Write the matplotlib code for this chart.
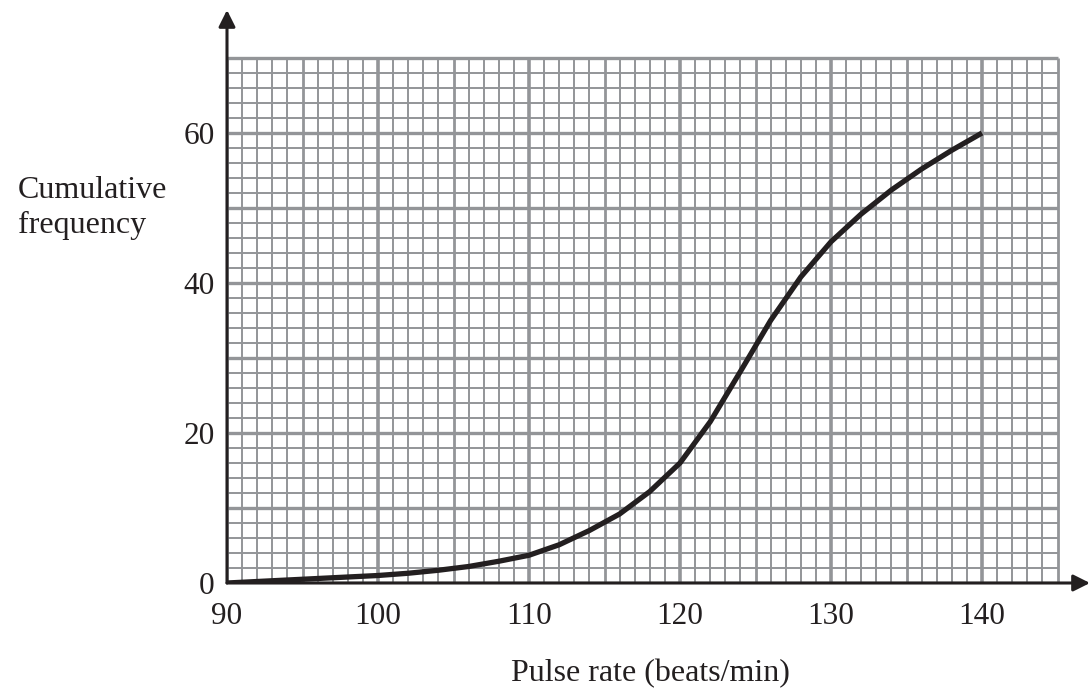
import numpy as np
import matplotlib
matplotlib.use("Agg")
import matplotlib.pyplot as plt

plt.rcParams['font.family'] = ['Liberation Serif', 'DejaVu Serif']

# Cumulative frequency curve
pulse = [90, 92, 94, 96, 98, 100, 102, 104, 106, 108, 110, 112, 114, 116, 118,
         120, 122, 124, 126, 128, 130, 132, 134, 136, 138, 140]
cum_freq = [0, 0.2, 0.4, 0.6, 0.8, 1.0, 1.3, 1.7, 2.2, 2.9, 3.7, 5.1, 7.0, 9.2, 12.2,
            16.0, 21.5, 28.2, 35.0, 40.8, 45.5, 49.2, 52.4, 55.2, 57.7, 60.0]

x_ticks = [90, 100, 110, 120, 130, 140]
y_ticks = [0, 20, 40, 60]

# Graph paper extent
grid_x = (90, 145)
grid_y = (0, 70)

W, H = 1090, 697
fig = plt.figure(figsize=(W / 100, H / 100), dpi=100)
x0, y0 = 227, 583          # pixel position of origin
px_x, px_y = 15.1, 7.5     # pixels per unit
xmax = grid_x[0] + (W - x0) / px_x
ymax = (y0 - 10) / px_y
ax = fig.add_axes([x0 / W, (H - y0) / H, (W - x0) / W, (y0 - 10) / H])
ax.set_xlim(grid_x[0], xmax)
ax.set_ylim(0, ymax)
for s in ax.spines.values():
    s.set_visible(False)

grey = '#939598'
# vertical grid lines
for v in range(grid_x[0], grid_x[1] + 1):
    lw = 2.6 if v % 10 == 0 else (2.0 if v % 5 == 0 else 1.4)
    ax.vlines(v, grid_y[0], grid_y[1], color=grey, lw=lw, zorder=1)
# horizontal grid lines
for h in range(grid_y[0], grid_y[1] + 1, 2):
    lw = 2.4 if h % 10 == 0 else 1.4
    ax.hlines(h, grid_x[0], grid_x[1], color=grey, lw=lw, zorder=1)

# axes with arrows
ax.annotate('', xy=(xmax, 0), xytext=(grid_x[0], 0),
            arrowprops=dict(arrowstyle='-|>', color='#231f20', lw=2.2,
                            mutation_scale=25, shrinkA=0, shrinkB=0), zorder=3)
ax.annotate('', xy=(grid_x[0], ymax), xytext=(grid_x[0], 0),
            arrowprops=dict(arrowstyle='-|>', color='#231f20', lw=2.2,
                            mutation_scale=25, shrinkA=0, shrinkB=0), zorder=3)

ax.plot(pulse, cum_freq, color='#231f20', lw=3.8, solid_capstyle='butt',
        solid_joinstyle='round', zorder=4)

ax.set_xticks(x_ticks)
ax.set_xticklabels([str(t) for t in x_ticks])
ax.set_yticks(y_ticks)
ax.set_yticklabels([str(t) for t in y_ticks])
ax.tick_params(length=0, labelsize=22.5, colors='#231f20')
ax.tick_params(axis='x', pad=14)
ax.tick_params(axis='y', pad=9)

fig.text(18 / W, 1 - 208 / H, 'Cumulative\nfrequency', fontsize=23,
         color='#231f20', ha='left', va='center', linespacing=1.3)
fig.text(650 / W, 1 - 674 / H, 'Pulse rate (beats/min)', fontsize=23,
         color='#231f20', ha='center', va='center')

fig.savefig('out.png', dpi=100)
